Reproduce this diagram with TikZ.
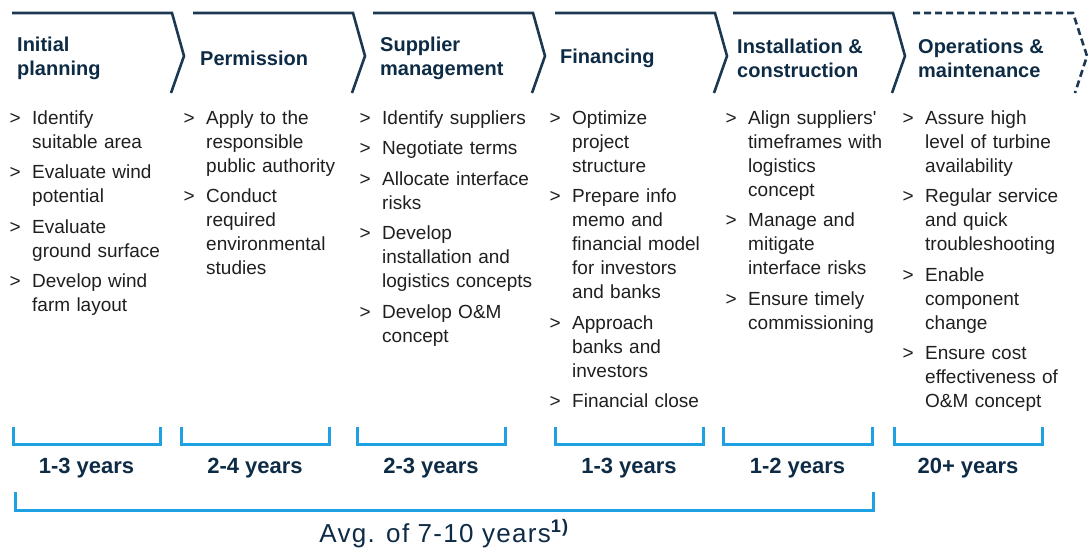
\documentclass[tikz,border=0pt]{standalone}
\usepackage{fontspec}
\setmainfont{Liberation Sans}
\newfontfamily\widesans[LetterSpace=5]{Liberation Sans}

\definecolor{navy}{HTML}{0E2B45}
\definecolor{lineblue}{HTML}{1B3752}
\definecolor{skyblue}{HTML}{1DA1E2}
\definecolor{ink}{HTML}{1F1F1F}

\tikzset{
	phase/.style={lineblue, line width=2.6pt},
	title/.style={anchor=west, align=left, inner sep=0pt, text=navy,
		font=\fontsize{20}{24}\selectfont\bfseries},
	task/.style={anchor=base west, text width=170pt, align=left, inner sep=0pt,
		text=ink, font=\fontsize{19}{24}\selectfont},
	tick/.style={anchor=base east, inner sep=0pt, xshift=-11pt,
		text=ink, font=\fontsize{19}{24}\selectfont},
	span/.style={skyblue, line width=3pt},
	years/.style={inner sep=0pt, text=navy, font=\fontsize{22}{26}\selectfont\bfseries}
}

\begin{document}
\begin{tikzpicture}[x=1pt, y=-1pt]
	\useasboundingbox (0,0) rectangle (1089,552);

	% phase chevrons, the last one is still open
	\foreach \x in {12,193,373,555,733}
		\draw[phase] (\x,13) -- ++(160,0) -- ++(12,43) -- ++(-13,37);
	\draw[phase, dash pattern=on 7pt off 4pt] (913,13) -- ++(160,0) -- ++(14,43) -- ++(-12,37);

	\node[title] (initial) at (17,58) {Initial\\planning};
	\node[title] (permission) at (200,58) {Permission};
	\node[title] (supplier) at (380,58) {Supplier\\management};
	\node[title] (financing) at (560,58) {Financing};
	\node[title] (installation) at (737,58) {Installation \&\\construction};
	\node[title] (operations) at (918,58) {Operations \&\\maintenance};

	\node[task] (c1a) at (32,124) {Identify\\suitable area};
	\node[task] (c1b) at (32,178.5) {Evaluate wind\\potential};
	\node[task] (c1c) at (32,233) {Evaluate\\ground surface};
	\node[task] (c1d) at (32,287.5) {Develop wind\\farm layout};

	\node[task] (c2a) at (206,124) {Apply to the\\responsible\\public authority};
	\node[task] (c2b) at (206,202.5) {Conduct\\required\\environmental\\studies};

	\node[task] (c3a) at (382,124) {Identify suppliers};
	\node[task] (c3b) at (382,154.5) {Negotiate terms};
	\node[task] (c3c) at (382,185) {Allocate interface\\risks};
	\node[task] (c3d) at (382,239.5) {Develop\\installation and\\logistics concepts};
	\node[task] (c3e) at (382,318) {Develop O\&M\\concept};

	\node[task] (c4a) at (572,124) {Optimize\\project\\structure};
	\node[task] (c4b) at (572,202.5) {Prepare info\\memo and\\financial model\\for investors\\and banks};
	\node[task] (c4c) at (572,329) {Approach\\banks and\\investors};
	\node[task] (c4d) at (572,407.5) {Financial close};

	\node[task] (c5a) at (748,124) {Align suppliers\textquotesingle\\timeframes with\\logistics\\concept};
	\node[task] (c5b) at (748,226.5) {Manage and\\mitigate\\interface risks};
	\node[task] (c5c) at (748,305) {Ensure timely\\commissioning};

	\node[task] (c6a) at (925,124) {Assure high\\level of turbine\\availability};
	\node[task] (c6b) at (925,202.5) {Regular service\\and quick\\troubleshooting};
	\node[task] (c6c) at (925,281) {Enable\\component\\change};
	\node[task] (c6d) at (925,359.5) {Ensure cost\\effectiveness of\\O\&M concept};

	\foreach \n in {c1a,c1b,c1c,c1d,c2a,c2b,c3a,c3b,c3c,c3d,c3e,c4a,c4b,c4c,c4d,c5a,c5b,c5c,c6a,c6b,c6c,c6d}
		\node[tick] (tick-\n) at (\n.base west) {>};

	% durations under each phase
	\foreach \a/\b/\t [count=\i] in {13/160/1-3 years, 181/329/2-4 years, 357/505/2-3 years,
			555/703/1-3 years, 723/872/1-2 years, 894/1042/20+ years} {
		\draw[span] (\a,427) |- (\b,444) -- (\b,427);
		\node[years] (years\i) at ({(\a+\b)/2},468) {\t};
	}

	\draw[span] (15,492) |- (873,510) -- (873,492);
	\node[anchor=base, inner sep=0pt, text=navy, font=\widesans\fontsize{26}{30}\selectfont]
		(average) at (444,542) {Avg. of 7-10 years{\bfseries\textsuperscript{1)}}};
\end{tikzpicture}
\end{document}
